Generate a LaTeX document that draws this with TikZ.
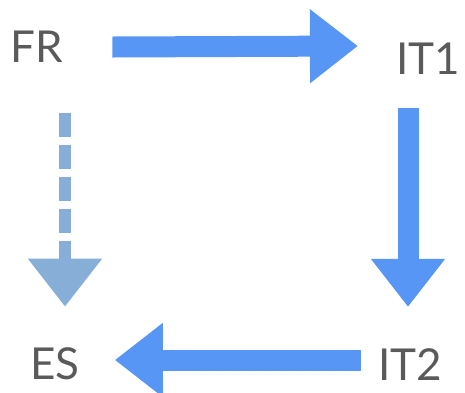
\documentclass[tikz,border=0pt]{standalone}
\usepackage{fontspec}
\setmainfont{Lato}
\usetikzlibrary{arrows.meta,calc}
\definecolor{flowblue}{RGB}{88,150,245}
\definecolor{fadeblue}{RGB}{134,174,214}
\definecolor{labelgray}{RGB}{90,90,90}
\tikzset{>={Triangle[width=71pt,length=48pt]}}
\tikzset{lang/.style={inner sep=0pt, text=labelgray, font=\fontsize{44}{44}\selectfont}}
\tikzset{flow/.style={->, flowblue, line width=21pt}}
\tikzset{maybe/.style={->, fadeblue, line width=12pt, dash pattern=on 24pt off 8pt}}

\begin{document}
\begin{tikzpicture}[x=1pt,y=-1pt]
    \useasboundingbox (0,0) rectangle (465,392);
    \node[lang] (FR) at (37,47) {FR};
    \node[lang] (IT1) at (428,59) {IT1};
    \node[lang] (ES) at (55,364) {ES};
    \node[lang] (IT2) at (410,365) {IT2};
    \draw[flow] ($(FR.east)+(49,0)$) -- ($(IT1.west)+(-38,-13)$);
    \draw[flow] ($(IT1.south)+(-20,33)$) -- ($(IT2.north)+(-2,-42)$);
    \draw[flow] ($(IT2.west)+(-17,-5)$) -- ($(ES.east)+(35,-4)$);
    \draw[maybe] ($(FR.south)+(28,50)$) -- ($(ES.north)+(10,-41)$);
\end{tikzpicture}
\end{document}
